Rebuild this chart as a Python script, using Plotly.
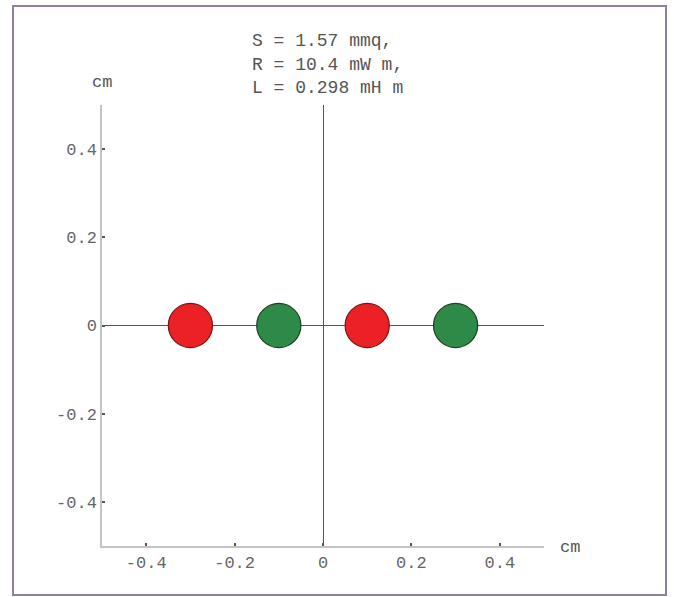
import plotly.graph_objects as go

# Data
conductor_x = [-0.3, -0.1, 0.1, 0.3]
conductor_y = [0.0, 0.0, 0.0, 0.0]
conductor_r = [0.05, 0.05, 0.05, 0.05]
conductor_phase = ["red", "green", "red", "green"]
tick_vals = [-0.4, -0.2, 0, 0.2, 0.4]
tick_text = ["-0.4", "-0.2", "0", "0.2", "0.4"]
info_lines = ["S = 1.57 mmq,", "R = 10.4 mW m,", "L = 0.298 mH m"]

fill_colors = {"red": "#ec2126", "green": "#2e8a47"}
edge_colors = {"red": "#7a1414", "green": "#1c3f26"}

W, H = 674, 597
L_M, R_M, T_M, B_M = 102, 130, 105, 51
pw = W - L_M - R_M
ph = H - T_M - B_M

fig = go.Figure()
# invisible trace to establish axes
fig.add_trace(go.Scatter(x=conductor_x, y=conductor_y, mode="markers",
                         marker=dict(size=1, opacity=0), hoverinfo="skip",
                         showlegend=False))

shapes = []
for cx, cy, r, ph_name in zip(conductor_x, conductor_y, conductor_r, conductor_phase):
    shapes.append(dict(type="circle", xref="x", yref="y",
                       x0=cx - r, x1=cx + r, y0=cy - r, y1=cy + r,
                       fillcolor=fill_colors[ph_name],
                       line=dict(color=edge_colors[ph_name], width=1.2),
                       layer="above"))

def px_to_paper_x(px):
    return (px - L_M) / pw

def px_to_paper_y(py):
    return (H - B_M - py) / ph

# outer border
shapes.append(dict(type="rect", xref="paper", yref="paper",
                   x0=px_to_paper_x(13), x1=px_to_paper_x(666),
                   y0=px_to_paper_y(595), y1=px_to_paper_y(6),
                   line=dict(color="#8f809e", width=2), fillcolor="rgba(0,0,0,0)",
                   layer="below"))

font_mono = "Liberation Mono, Courier New, monospace"
annotations = []
for i, line in enumerate(info_lines):
    annotations.append(dict(text=line, xref="paper", yref="paper",
                            x=px_to_paper_x(250), y=px_to_paper_y(41 + 23.5 * i),
                            xanchor="left", yanchor="middle", showarrow=False,
                            font=dict(family=font_mono, size=18, color="#555555")))
annotations.append(dict(text="cm", xref="paper", yref="paper",
                        x=px_to_paper_x(102), y=px_to_paper_y(82),
                        xanchor="center", yanchor="middle", showarrow=False,
                        font=dict(family=font_mono, size=17, color="#555555")))
annotations.append(dict(text="cm", xref="paper", yref="paper",
                        x=px_to_paper_x(558), y=px_to_paper_y(547),
                        xanchor="left", yanchor="middle", showarrow=False,
                        font=dict(family=font_mono, size=17, color="#555555")))

axis_common = dict(range=[-0.5, 0.5], tickvals=tick_vals, ticktext=tick_text,
                   showgrid=False, zeroline=True, zerolinecolor="#555555",
                   zerolinewidth=1, showline=True, linecolor="#c4c4c4",
                   linewidth=1.5, ticks="inside", ticklen=3, tickwidth=2,
                   tickcolor="#555555",
                   tickfont=dict(family=font_mono, size=17, color="#666666"),
                   fixedrange=True)

fig.update_layout(
    width=W, height=H,
    margin=dict(l=L_M, r=R_M, t=T_M, b=B_M),
    paper_bgcolor="white", plot_bgcolor="white",
    xaxis=dict(**axis_common),
    yaxis=dict(**axis_common),
    shapes=shapes,
    annotations=annotations,
    showlegend=False,
)

fig.write_html("out.html", config={"displayModeBar": False},
               post_script="document.body.style.margin='0';document.body.style.overflow='hidden';")
